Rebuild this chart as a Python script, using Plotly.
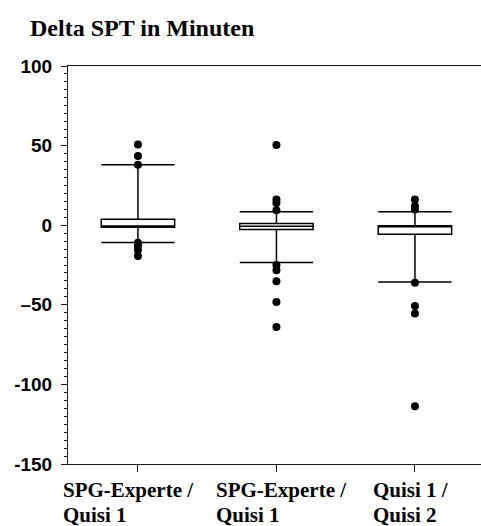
import plotly.graph_objects as go

# Paired comparisons of sleep period time (minutes)
group_line1 = ["SPG-Experte /", "SPG-Experte /", "Quisi 1 /"]
group_line2 = ["Quisi 1", "Quisi 1", "Quisi 2"]
positions = [0, 1, 2]

q1 = [-1.3, -2.7, -5.7]
median = [-0.5, -0.6, -0.8]
q3 = [3.8, 1.0, -0.4]
lower_whisker = [-10.9, -23.4, -35.6]
upper_whisker = [37.9, 8.4, 8.4]

outliers = [
    [50.7, 43.5, 38.0, -11.0, -13.0, -15.5, -19.3],
    [50.3, 16.1, 14.0, 9.4, -25.0, -28.3, -35.2, -48.2, -63.9],
    [16.1, 12.0, 9.9, -36.2, -50.7, -55.5, -113.7],
]

y_ticks = [-150, -100, -50, 0, 50, 100]
y_tick_text = ["-150", "-100", "\u201350", "0", "50", "100"]

# horizontal nudges (px) for the left-aligned category labels
label_shift = [-76, -61, -43]

ink = "#000000"
axis_col = "#1a1a1a"

fig = go.Figure()

fig.add_trace(go.Box(
    x=positions,
    q1=q1, median=median, q3=q3,
    lowerfence=lower_whisker, upperfence=upper_whisker,
    width=0.53,
    whiskerwidth=1,
    fillcolor="white",
    line=dict(color=ink, width=1.5),
    boxpoints=False,
    showlegend=False,
    hoverinfo="skip",
))

ox, oy = [], []
for p, vals in zip(positions, outliers):
    ox += [p] * len(vals)
    oy += vals
fig.add_trace(go.Scatter(
    x=ox, y=oy, mode="markers",
    marker=dict(color=ink, size=8, line=dict(width=0)),
    showlegend=False, hoverinfo="skip",
))

# two-line category labels, left aligned, with a tight line pitch
label_font = dict(family="Liberation Serif", size=21, color=ink, weight="bold")
for p, l1, l2, s in zip(positions, group_line1, group_line2, label_shift):
    for txt, dy in ((l1, -13), (l2, -38)):
        fig.add_annotation(
            x=p, xref="x", y=0, yref="paper",
            text=txt, showarrow=False,
            xanchor="left", yanchor="top", align="left",
            xshift=s, yshift=dy, borderpad=0,
            font=label_font,
        )

fig.update_layout(
    width=481, height=526,
    margin=dict(l=68, r=0, t=66, b=62),
    paper_bgcolor="white", plot_bgcolor="white",
    title=dict(
        text="<b>Delta SPT in Minuten</b>",
        font=dict(family="Liberation Serif", size=24, color=ink),
        xref="container", yref="container",
        x=30 / 481, xanchor="left",
        y=1 - 19 / 526, yanchor="top",
    ),
    xaxis=dict(
        range=[-0.505, 2.477],
        tickvals=positions, ticktext=["", "", ""],
        ticks="outside", ticklen=7, tickwidth=1, tickcolor=axis_col,
        showline=True, linecolor=axis_col, linewidth=1, mirror=True,
        showgrid=False, zeroline=False,
    ),
    yaxis=dict(
        range=[-150, 100],
        tickvals=y_ticks, ticktext=y_tick_text,
        ticks="outside", ticklen=6, tickwidth=1, tickcolor=axis_col,
        minor=dict(dtick=5, tick0=0, ticks="outside", ticklen=3,
                   tickwidth=1, tickcolor=axis_col),
        showline=True, linecolor=axis_col, linewidth=1,
        showgrid=False, zeroline=False,
        ticklabelstandoff=5,
        tickfont=dict(family="Liberation Sans", size=19, color=ink, weight="bold"),
    ),
)

fig.write_html("out.html")
